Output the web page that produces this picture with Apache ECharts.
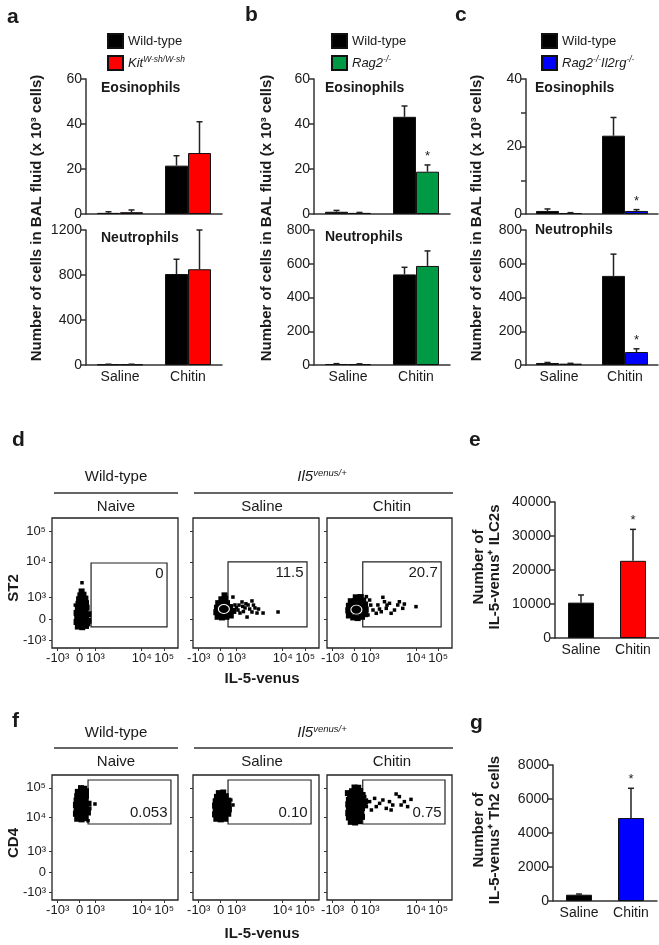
<!DOCTYPE html>
<html><head><meta charset="utf-8">
<script src="https://cdn.jsdelivr.net/npm/echarts@6/dist/echarts.min.js"></script>
<style>html,body{margin:0;padding:0;background:#fff}#c{width:659px;height:945px}</style>
</head><body><div id="c"></div>
<script>
// ---------------- data ----------------
const groups = ['Saline', 'Chitin'];
// panel a (x10^3 cells / cells)
const aEosWT = [0.5, 21.5], aEosWTErr = [0.5, 4.4];
const aEosKO = [0.8, 27.1], aEosKOErr = [1.0, 13.9];
const aNeuWT = [5, 809],   aNeuWTErr = [2, 131];
const aNeuKO = [5, 851],   aNeuKOErr = [2, 349];
// panel b
const bEosWT = [1.0, 43.2], bEosWTErr = [0.6, 4.8];
const bEosKO = [0.5, 18.8], bEosKOErr = [0.2, 3.0];
const bNeuWT = [6, 537],    bNeuWTErr = [2, 42];
const bNeuKO = [5, 587],    bNeuKOErr = [2, 89];
// panel c
const cEosWT = [0.9, 23.2], cEosWTErr = [0.6, 5.4];
const cEosKO = [0.3, 0.9],  cEosKOErr = [0.1, 0.4];
const cNeuWT = [12, 528],   cNeuWTErr = [3, 129];
const cNeuKO = [8, 77],     cNeuKOErr = [2, 19];
// panels e, g
const eVals = [10400, 22700], eErr = [2250, 9250];
const gVals = [370, 4880],    gErr = [40, 1750];
// significance flags [Saline, Chitin]
const bEosKOSig = [0, 1], cEosKOSig = [0, 1], cNeuKOSig = [0, 1], eSig = [0, 1], gSig = [0, 1];
const noSig = [0, 0];

// flow axis ticks (display channel units 0-1000)
const flowTickLabels = ['-10³', '0', '10³', '10⁴', '10⁵'];
const flowXTicks = [45, 220, 345, 712, 890];
const flowYTicks = [60, 220, 390, 663, 898];

// flow events [IL-5-venus channel, ST2/CD4 channel]: dense core + sparse events
const dNaiveCore = [[205,165],[240,160],[270,170],[195,200],[230,195],[265,200],[290,210],[200,235],[235,230],[270,240],
  [195,270],[230,265],[265,275],[290,260],[205,305],[240,300],[275,310],[210,340],[245,335],[270,345],
  [215,375],[245,370],[265,380],[225,405],[250,410],[235,435]];
const dNaiveEvents = [[238,502],[290,180],[185,330]];
const dSalineCore = [[195,240],[230,235],[265,240],[300,250],[185,275],[220,270],[255,275],[290,280],[320,285],
  [190,310],[225,305],[260,310],[295,315],[200,345],[235,340],[270,345],[225,375],[255,380],[250,405]];
const dSalineEvents = [[333,331],[357,292],[389,354],[413,308],[437,331],[468,277],[468,362],[492,308],[508,269],[429,238],
  [556,269],[675,277],[373,269],[317,392],[345,310],[400,280],[450,300],[420,340],[480,330],[520,300],[365,330],[395,320]];
const dChitinCore = [[175,250],[210,235],[245,230],[280,240],[305,260],[170,290],[205,280],[240,275],[275,285],[310,295],
  [175,325],[210,320],[245,315],[280,325],[305,335],[190,360],[225,360],[260,355],[290,365],[230,390],[270,392]];
const dChitinEvents = [[341,369],[368,292],[407,331],[447,390],[474,305],[500,344],[540,292],[566,331],[606,305],[619,338],[712,318],
  [394,267],[434,279],[513,267],[315,395],[328,254],[460,356],[579,356],[350,330],[420,300],[480,330]];
const dContours = [[[245,300]], [[235,295]]];
const fNaiveCore = [[200,650],[235,645],[265,655],[190,690],[225,685],[260,690],[285,700],[195,725],[230,720],[265,730],
  [190,760],[225,755],[260,765],[290,770],[195,795],[230,790],[265,800],[200,830],[235,825],[270,835],
  [205,865],[240,860],[270,870],[230,895],[255,890]];
const fNaiveEvents = [[341,768],[286,634],[300,730]];
const fSalineCore = [[185,650],[220,645],[255,650],[175,685],[210,680],[245,685],[280,690],[180,720],[215,715],[250,720],[285,725],
  [175,755],[210,750],[245,755],[280,760],[180,790],[215,785],[250,790],[280,795],[190,825],[225,820],[260,830],
  [205,855],[240,860]];
const fSalineEvents = [[317,760],[300,800]];
const fChitinCore = [[190,625],[225,620],[260,630],[175,660],[210,655],[245,660],[280,665],[170,695],[205,690],[240,695],[275,700],
  [175,730],[210,725],[245,730],[280,735],[170,765],[205,760],[240,765],[275,770],[300,760],
  [175,800],[210,795],[245,800],[280,805],[305,790],[185,835],[220,830],[255,835],[285,840],
  [200,870],[235,868],[265,872],[220,900],[250,898],[167,855]];
const fChitinEvents = [[302,827],[341,787],[381,813],[394,747],[421,773],[447,800],[474,733],[500,787],[526,760],[553,848],
  [579,827],[593,760],[619,787],[645,747],[672,805],[513,720],[315,747],[355,720]];
// gates [[x1,y1],[x2,y2]] and their percentages
const dGates = [[[310,162],[913,654]], [[278,162],[905,662]], [[286,162],[913,662]]];
const dGateLabels = ['0', '11.5', '20.7'];
const fGates = [[[286,608],[944,960]], [[278,608],[937,960]], [[286,608],[944,960]]];
const fGateLabels = ['0.053', '0.10', '0.75'];

// ---------------- layout / style ----------------
const FONT = '"Liberation Sans", Arial, Helvetica, sans-serif';
const AX = '#333', TX = '#1a1a1a';
const RED = '#ff0000', GREEN = '#009944', BLUE = '#0000ff';

const grids = [
  {left: 86, top: 79, width: 136, height: 135},   // 0 a eos
  {left: 86, top: 230, width: 136, height: 135},  // 1 a neu
  {left: 314, top: 79, width: 136, height: 135},  // 2 b eos
  {left: 314, top: 230, width: 136, height: 135}, // 3 b neu
  {left: 526, top: 79, width: 132, height: 135},  // 4 c eos
  {left: 526, top: 230, width: 132, height: 135}, // 5 c neu
  {left: 555, top: 502, width: 104, height: 136}, // 6 e
  {left: 553, top: 765, width: 104, height: 136}, // 7 g
  {left: 52, top: 518, width: 126, height: 130},  // 8 d naive
  {left: 193, top: 518, width: 126, height: 130}, // 9 d saline
  {left: 327, top: 518, width: 125, height: 130}, // 10 d chitin
  {left: 52, top: 775, width: 126, height: 125},  // 11 f naive
  {left: 193, top: 775, width: 126, height: 125}, // 12 f saline
  {left: 327, top: 775, width: 125, height: 125}  // 13 f chitin
].map((g, i) => i >= 8
  ? Object.assign(g, {show: true, borderColor: '#222', borderWidth: 1.3, backgroundColor: 'transparent'})
  : g);

const barAxesSpec = [
  {max: 60, interval: 20, labels: false},
  {max: 1200, interval: 400, labels: true},
  {max: 60, interval: 20, labels: false},
  {max: 800, interval: 200, labels: true},
  {max: 40, interval: 10, labels: false, every: 20},
  {max: 800, interval: 200, labels: true},
  {max: 40000, interval: 10000, labels: true},
  {max: 8000, interval: 2000, labels: true}
];

const xAxis = [], yAxis = [];
barAxesSpec.forEach((s, i) => {
  xAxis.push({
    type: 'category', gridIndex: i, data: groups,
    axisLine: {lineStyle: {color: AX, width: 1.5}},
    axisTick: {show: false},
    axisLabel: {show: s.labels, fontSize: 14, color: TX, fontFamily: FONT, margin: 5}
  });
  yAxis.push({
    type: 'value', gridIndex: i, min: 0, max: s.max, interval: s.interval,
    axisLine: {show: true, lineStyle: {color: AX, width: 1.5}},
    axisTick: {show: true, length: 5, lineStyle: {color: AX, width: 1.5}},
    splitLine: {show: false},
    axisLabel: {fontSize: 14, color: TX, fontFamily: FONT, margin: 4,
      formatter: v => (s.every && v % s.every !== 0) ? '' : String(v)}
  });
});
for (let k = 0; k < 6; k++) {
  const gi = 8 + k;
  const showY = (k % 3) === 0;
  xAxis.push({
    type: 'value', gridIndex: gi, min: 0, max: 1000,
    axisLine: {show: false}, splitLine: {show: false},
    axisTick: {show: true, customValues: flowXTicks, length: 3, lineStyle: {color: AX}},
    axisLabel: {show: true, customValues: flowXTicks, fontSize: 13, color: TX, fontFamily: FONT, margin: 4,
      formatter: v => flowTickLabels[flowXTicks.indexOf(v)]}
  });
  yAxis.push({
    type: 'value', gridIndex: gi, min: 0, max: 1000,
    axisLine: {show: false}, splitLine: {show: false},
    axisTick: {show: true, customValues: flowYTicks, length: 3, lineStyle: {color: AX}},
    axisLabel: {show: showY, customValues: flowYTicks, fontSize: 13, color: TX, fontFamily: FONT, margin: 6,
      formatter: v => flowTickLabels[flowYTicks.indexOf(v)]}
  });
}

// ---------------- series builders ----------------
function barSeries(g, name, vals, color, width) {
  return {
    type: 'bar', name: name, xAxisIndex: g, yAxisIndex: g, data: vals,
    barWidth: width || 23, barGap: '0%', z: 2, silent: true,
    itemStyle: {color: color, borderColor: '#111', borderWidth: 1}
  };
}
function errSeries(g, vals, errs, offset, sig) {
  return {
    type: 'custom', xAxisIndex: g, yAxisIndex: g, z: 3, silent: true,
    data: vals.map((v, i) => [i, v, errs[i], sig[i]]),
    encode: {x: 0, y: 1},
    renderItem: (params, api) => {
      const c = api.value(0), v = api.value(1), e = api.value(2), s = api.value(3);
      const p0 = api.coord([c, v]);
      const p1 = api.coord([c, v + e]);
      const x = p0[0] + offset;
      const ch = [
        {type: 'line', shape: {x1: x, y1: p0[1], x2: x, y2: p1[1]}, style: {stroke: '#222', lineWidth: 1.5}},
        {type: 'line', shape: {x1: x - 3, y1: p1[1], x2: x + 3, y2: p1[1]}, style: {stroke: '#222', lineWidth: 1.5}}
      ];
      if (s) ch.push({type: 'text', style: {text: '*', x: x, y: p1[1] - 2, textAlign: 'center',
        textVerticalAlign: 'bottom', font: '13px ' + FONT, fill: '#222'}});
      return {type: 'group', children: ch};
    }
  };
}
function pairSeries(g, wt, wtErr, ko, koErr, koName, koColor, koSig) {
  return [
    barSeries(g, 'Wild-type', wt, '#000'),
    barSeries(g, koName, ko, koColor),
    errSeries(g, wt, wtErr, -11.5, noSig),
    errSeries(g, ko, koErr, 11.5, koSig)
  ];
}
function singleSeries(g, vals, errs, colors, sig) {
  return [
    {type: 'bar', xAxisIndex: g, yAxisIndex: g, barWidth: 26, z: 2, silent: true,
     data: vals.map((v, i) => ({value: v, itemStyle: {color: colors[i], borderColor: '#111', borderWidth: 1}}))},
    errSeries(g, vals, errs, 0, sig)
  ];
}
function flowSeries(g, core, events, gate, label, pos) {
  return [
    {type: 'scatter', xAxisIndex: g, yAxisIndex: g, data: core, symbol: 'rect', symbolSize: 6,
     silent: true, itemStyle: {color: '#000', opacity: 1}},
    {type: 'scatter', xAxisIndex: g, yAxisIndex: g, data: events, symbol: 'rect', symbolSize: 3.5,
     silent: true, itemStyle: {color: '#000', opacity: 1},
     markArea: {
       silent: true,
       itemStyle: {color: 'rgba(0,0,0,0)', borderColor: '#222', borderWidth: 1.2},
       label: {show: true, position: pos, formatter: label, fontSize: 15, color: TX, fontFamily: FONT, distance: 4},
       data: [[{coord: gate[0]}, {coord: gate[1]}]]
     }}
  ];
}
function contourSeries(g, pts) {
  return {
    type: 'scatter', xAxisIndex: g, yAxisIndex: g, data: pts, symbol: 'circle', symbolSize: [11, 9],
    silent: true, z: 5, itemStyle: {color: 'rgba(0,0,0,0)', borderColor: '#fff', borderWidth: 1, opacity: 1}
  };
}

const series = [].concat(
  pairSeries(0, aEosWT, aEosWTErr, aEosKO, aEosKOErr, 'Kit', RED, noSig),
  pairSeries(1, aNeuWT, aNeuWTErr, aNeuKO, aNeuKOErr, 'Kit', RED, noSig),
  pairSeries(2, bEosWT, bEosWTErr, bEosKO, bEosKOErr, 'Rag2', GREEN, bEosKOSig),
  pairSeries(3, bNeuWT, bNeuWTErr, bNeuKO, bNeuKOErr, 'Rag2', GREEN, noSig),
  pairSeries(4, cEosWT, cEosWTErr, cEosKO, cEosKOErr, 'Rag2Il2rg', BLUE, cEosKOSig),
  pairSeries(5, cNeuWT, cNeuWTErr, cNeuKO, cNeuKOErr, 'Rag2Il2rg', BLUE, cNeuKOSig),
  singleSeries(6, eVals, eErr, ['#000', RED], eSig),
  singleSeries(7, gVals, gErr, ['#000', BLUE], gSig),
  flowSeries(8, dNaiveCore, dNaiveEvents, dGates[0], dGateLabels[0], 'insideTopRight'),
  flowSeries(9, dSalineCore, dSalineEvents, dGates[1], dGateLabels[1], 'insideTopRight'),
  flowSeries(10, dChitinCore, dChitinEvents, dGates[2], dGateLabels[2], 'insideTopRight'),
  [contourSeries(9, dContours[0]), contourSeries(10, dContours[1])],
  flowSeries(11, fNaiveCore, fNaiveEvents, fGates[0], fGateLabels[0], 'insideBottomRight'),
  flowSeries(12, fSalineCore, fSalineEvents, fGates[1], fGateLabels[1], 'insideBottomRight'),
  flowSeries(13, fChitinCore, fChitinEvents, fGates[2], fGateLabels[2], 'insideBottomRight')
);

// ---------------- legends ----------------
const legendNames = {
  'Wild-type': '{n|Wild-type}',
  'Kit': '{i|Kit}{s|W-sh/W-sh}',
  'Rag2': '{i|Rag2}{s|-/-}',
  'Rag2Il2rg': '{i|Rag2}{s|-/-}{i|Il2rg}{s|-/-}'
};
const legendRich = {
  n: {fontSize: 13, fontFamily: FONT, color: TX, lineHeight: 16},
  i: {fontSize: 13, fontFamily: FONT, color: TX, fontStyle: 'italic', lineHeight: 16},
  s: {fontSize: 8.5, fontFamily: FONT, color: TX, fontStyle: 'italic', lineHeight: 9, verticalAlign: 'top'}
};
function legendAt(left, ko) {
  return {
    left: left, top: 28, orient: 'vertical', itemWidth: 15, itemHeight: 14, itemGap: 6,
    selectedMode: false, icon: 'rect', data: ['Wild-type', ko],
    formatter: n => legendNames[n],
    textStyle: {rich: legendRich}
  };
}

// ---------------- annotations ----------------
const G = [];
function txt(t, x, y, o) {
  o = o || {};
  G.push({type: 'text', x: x, y: y, rotation: o.rot || 0, silent: true,
    style: {text: t, font: (o.font || '14px') + ' ' + FONT, fill: TX,
      textAlign: o.align || 'left', textVerticalAlign: 'middle', lineHeight: o.lh, rich: o.rich}});
}
function hline(x1, x2, y) {
  G.push({type: 'line', silent: true, shape: {x1: x1, y1: y, x2: x2, y2: y}, style: {stroke: '#333', lineWidth: 1.5}});
}
const B21 = 'bold 21px', B14 = 'bold 14px', B15 = 'bold 15px';
txt('a', 7, 17, {font: B21}); txt('b', 245, 15, {font: B21}); txt('c', 455, 15, {font: B21});
txt('d', 12, 440, {font: B21}); txt('e', 469, 440, {font: B21});
txt('f', 12, 721, {font: B21}); txt('g', 470, 723, {font: B21});
[[101, 238], [325, 237], [535, 230]].forEach((p, i) => {
  txt('Eosinophils', p[0], 88, {font: B14});
  txt('Neutrophils', p[0], p[1], {font: B14});
});
const yTitle = 'Number of cells in BAL fluid (x 10³ cells)';
[37, 267, 477].forEach(x => txt(yTitle, x, 218, {font: B15, align: 'center', rot: Math.PI / 2}));
txt('Number of\nIL-5-venus⁺ ILC2s', 487, 567, {font: B15, align: 'center', rot: Math.PI / 2, lh: 16});
txt('Number of\nIL-5-venus⁺ Th2 cells', 487, 830, {font: B15, align: 'center', rot: Math.PI / 2, lh: 16});
const hdrRich = {
  i: {fontSize: 15, fontFamily: FONT, color: TX, fontStyle: 'italic', lineHeight: 18},
  s: {fontSize: 9.5, fontFamily: FONT, color: TX, fontStyle: 'italic', lineHeight: 10, verticalAlign: 'top'}
};
[[477, 493, 507], [733, 748, 762]].forEach(r => {
  txt('Wild-type', 116, r[0], {font: '15px', align: 'center'});
  txt('{i|Il5}{s|venus/+}', 322, r[0], {font: '15px', align: 'center', rich: hdrRich});
  hline(54, 178, r[1]); hline(194, 453, r[1]);
  txt('Naive', 116, r[2], {font: '15px', align: 'center'});
  txt('Saline', 262, r[2], {font: '15px', align: 'center'});
  txt('Chitin', 392, r[2], {font: '15px', align: 'center'});
});
txt('ST2', 14, 588, {font: B15, align: 'center', rot: Math.PI / 2});
txt('CD4', 14, 843, {font: B15, align: 'center', rot: Math.PI / 2});
txt('IL-5-venus', 262, 679, {font: B15, align: 'center'});
txt('IL-5-venus', 262, 934, {font: B15, align: 'center'});

const chart = echarts.init(document.getElementById('c'), null, {renderer: 'canvas'});
chart.setOption({
  animation: false,
  backgroundColor: '#fff',
  textStyle: {fontFamily: FONT},
  grid: grids,
  xAxis: xAxis,
  yAxis: yAxis,
  legend: [legendAt(102, 'Kit'), legendAt(326, 'Rag2'), legendAt(536, 'Rag2Il2rg')],
  series: series,
  graphic: G
});
</script>
</body></html>
